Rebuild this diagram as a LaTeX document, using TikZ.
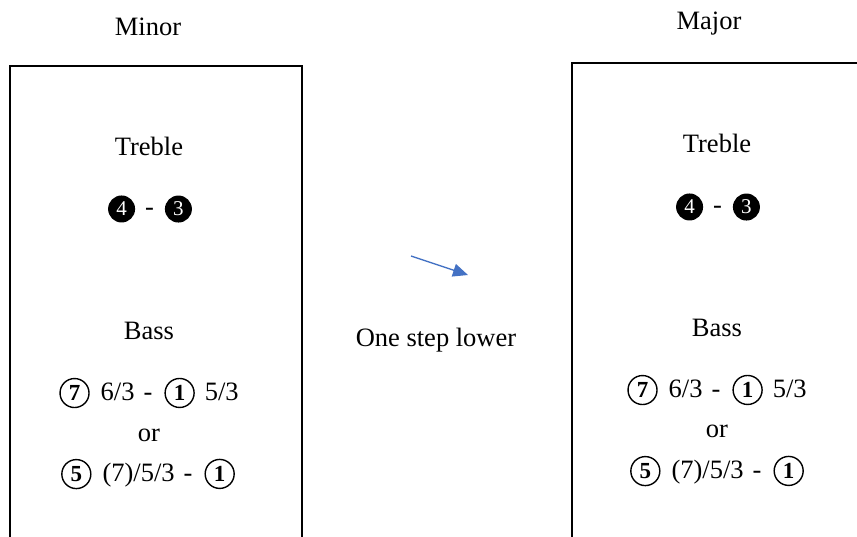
\documentclass[tikz,border=0pt]{standalone}
\usepackage{fontspec}
\setmainfont{Liberation Serif}
\usetikzlibrary{arrows.meta}
\definecolor{arrowblue}{HTML}{4472C4}
% circled degree numbers drawn inline
\newcommand{\blackc}[1]{\tikz[baseline=(d.base)]\node[circle, fill=black, text=white, inner sep=0pt, minimum size=27pt, font=\fontsize{21}{21}\selectfont] (d) {#1};}
\newcommand{\openc}[1]{\tikz[baseline=(d.base)]\node[circle, draw=black, line width=1.4pt, inner sep=0pt, minimum size=29pt, font=\fontsize{23}{23}\selectfont\bfseries] (d) {#1};}
\newcommand{\gap}[1]{\hspace*{#1pt}}
\tikzset{
  lbl/.style={inner sep=0pt, anchor=center, font=\fontsize{26.5}{30}\selectfont},
  panel/.style={draw=black, line width=2.4pt},
  steparrow/.style={draw=arrowblue, line width=1.3pt, -{Triangle[length=15pt,width=13pt]}}
}
\begin{document}
\begin{tikzpicture}[x=1pt, y=-1pt]
  \useasboundingbox (0,0) rectangle (857,536);
  \clip (0,0) rectangle (857,536);

  % column headings
  \node[lbl] (minor) at (148,27) {Minor};
  \node[lbl] (major) at (709,24) {Major};

  % the two panels, running off the bottom and right edges
  \draw[panel] (10,66) rectangle (302,560);
  \draw[panel] (572,63) rectangle (880,560);

  % minor panel
  \node[lbl] (trebleL) at (149,146) {Treble};
  \node[lbl] (upperL) at (150,209) {\blackc{4}\gap{10}-\gap{11}\blackc{3}};
  \node[lbl] (bassL) at (149,331) {Bass};
  \node[lbl] (lineAL) at (149,393) {\openc{7}\gap{11}6/3\gap{9}-\gap{12}\openc{1}\gap{10}5/3};
  \node[lbl] (orL) at (149,435) {or};
  \node[lbl] (lineBL) at (148,474) {\openc{5}\gap{11}(7)/5/3\gap{9}-\gap{12}\openc{1}};

  % major panel
  \node[lbl] (trebleR) at (717,143) {Treble};
  \node[lbl] (upperR) at (718,207) {\blackc{4}\gap{10}-\gap{11}\blackc{3}};
  \node[lbl] (bassR) at (717,328) {Bass};
  \node[lbl] (lineAR) at (717,390) {\openc{7}\gap{11}6/3\gap{9}-\gap{12}\openc{1}\gap{10}5/3};
  \node[lbl] (orR) at (717,431) {or};
  \node[lbl] (lineBR) at (717,471) {\openc{5}\gap{11}(7)/5/3\gap{9}-\gap{12}\openc{1}};

  % transition between the panels
  \coordinate (arrowtail) at (411,256);
  \coordinate (arrowhead) at (468,275);
  \draw[steparrow] (arrowtail) -- (arrowhead);
  \node[lbl] (lower) at (436,340) {One step lower};
\end{tikzpicture}
\end{document}
